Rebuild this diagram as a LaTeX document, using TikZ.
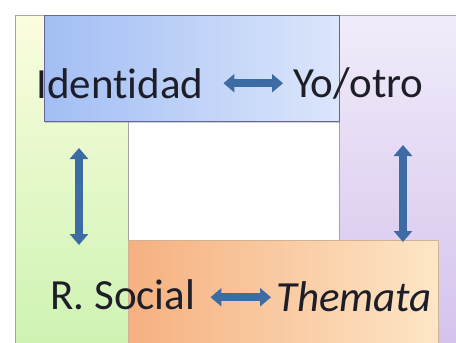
\documentclass[tikz,border=0pt]{standalone}
\usepackage{fontspec}
\setmainfont{Carlito}[Ligatures = NoCommon]
\usetikzlibrary{arrows.meta}
\usetikzlibrary{shadows}

\definecolor{arrowblue}{HTML}{3D6BA3}
\definecolor{textdark}{HTML}{1E1E28}
\definecolor{greentop}{HTML}{FBFDDF}
\definecolor{greenbot}{HTML}{CDF3B2}
\definecolor{blueleft}{HTML}{A2BEF4}
\definecolor{blueright}{HTML}{DCE6FB}
\definecolor{purpletop}{HTML}{F1ECFA}
\definecolor{purplebot}{HTML}{D4C2EC}
\definecolor{orangeleft}{HTML}{F6B080}
\definecolor{orangeright}{HTML}{FDE6C6}

\begin{document}
\begin{tikzpicture}[x=1pt, y=-1pt,
		box/.style = {draw = gray!70, line width = 0.8pt},
		label/.style = {inner sep = 0pt, anchor = base west, text = textdark, font = \fontsize{43}{50}\selectfont},
		link/.style = {draw = arrowblue, line width = 8pt, {Triangle[length=11pt,width=18pt]}-{Triangle[length=11pt,width=18pt]}}]
		% Page
		\fill [white] (0,0) rectangle (456,343);
		\clip (0,0) rectangle (456,343);
		% Left box (green)
		\shade [top color = greentop, bottom color = greenbot] (15,15) rectangle (128,350);
		\draw [box] (15,350) -- (15,15) -- (128,15) -- (128,350);
		% Right box (purple)
		\shade [top color = purpletop, bottom color = purplebot] (339,15) rectangle (460,350);
		\draw [box] (339,350) -- (339,15) -- (460,15);
		% Top box (blue)
		\path [drop shadow = {shadow xshift = 0.5pt, shadow yshift = -2pt, opacity = 0.35}, left color = blueleft, right color = blueright] (44,15) rectangle (339,121);
		\draw [box, draw = gray!80!blue] (44,15) rectangle (339,121);
		% Bottom box (orange)
		\shade [left color = orangeleft, right color = orangeright] (128,240) rectangle (438,350);
		\draw [box, draw = orange!40!gray!60] (128,350) -- (128,240) -- (438,240) -- (438,350);
		% Labels
		\node [label] (ident) at (36,98) {Identidad};
		\node [label] (yo) at (293,97) {Yo/otro};
		\node [label] (rsoc) at (50,309) {R. Social};
		\node [label, font = \fontsize{43}{50}\selectfont\itshape] (thema) at (276,311) {Themata};
		% Vertical arrow ends
		\coordinate (lefttop) at (79,148);
		\coordinate (leftbot) at (79,245);
		\coordinate (righttop) at (403,145);
		\coordinate (rightbot) at (403,242);
		% Arrows
		\draw [link, shorten < = 20pt, shorten > = 10pt] (ident.east) -- (ident.east -| yo.west);
		\draw [link, shorten < = 15pt, shorten > = 5pt] ([yshift=-3pt]rsoc.east) -- ([yshift=-3pt]rsoc.east -| thema.west);
		\draw [link] (lefttop) -- (leftbot);
		\draw [link] (righttop) -- (rightbot);
\end{tikzpicture}
\end{document}
